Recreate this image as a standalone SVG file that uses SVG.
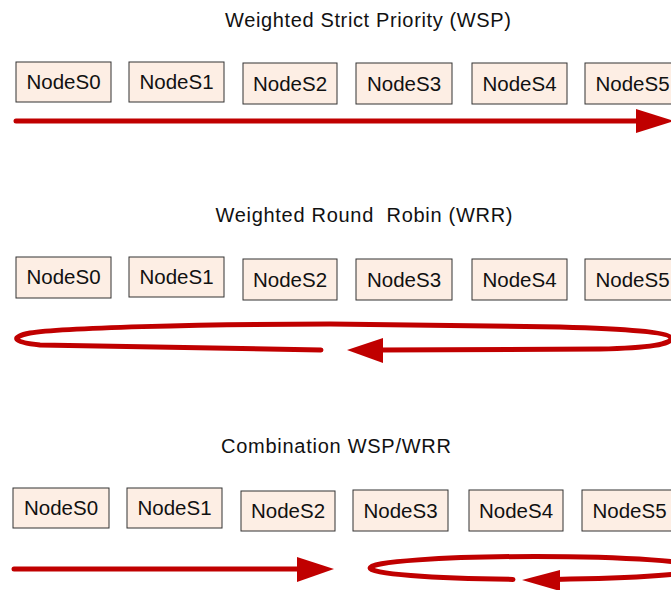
<svg xmlns="http://www.w3.org/2000/svg" width="671" height="590" viewBox="0 0 671 590">
<style>
.box{fill:#FDEEE4;stroke:#333;stroke-width:1}
.lbl{font-family:"Liberation Sans",Arial,sans-serif;font-size:20.5px;fill:#111;text-anchor:middle}
.title{font-family:"Liberation Sans",Arial,sans-serif;font-size:20px;fill:#111;text-anchor:middle}
.red{fill:none;stroke:#C00000;stroke-width:5;stroke-linecap:round;stroke-linejoin:round}
.head{fill:#C00000}
</style>
<rect width="671" height="590" fill="#fff"/>
<g id="titles">
<text class="title" x="368" y="27" textLength="286" lengthAdjust="spacing">Weighted Strict Priority (WSP)</text>
<text class="title" x="364" y="222" textLength="297" lengthAdjust="spacing" xml:space="preserve">Weighted Round  Robin (WRR)</text>
<text class="title" x="336" y="453" textLength="230" lengthAdjust="spacing">Combination WSP/WRR</text>
</g>
<g id="row1">
<g id="r1-s0"><rect class="box" x="16" y="62" width="95" height="40"/><text class="lbl" x="63.5" y="89">NodeS0</text></g>
<g id="r1-s1"><rect class="box" x="129" y="62" width="95" height="40"/><text class="lbl" x="176.5" y="89">NodeS1</text></g>
<g id="r1-s2"><rect class="box" x="243" y="63" width="94" height="41"/><text class="lbl" x="290" y="91">NodeS2</text></g>
<g id="r1-s3"><rect class="box" x="356" y="63" width="96" height="41"/><text class="lbl" x="404" y="91">NodeS3</text></g>
<g id="r1-s4"><rect class="box" x="472" y="63" width="95" height="41"/><text class="lbl" x="519.5" y="91">NodeS4</text></g>
<g id="r1-s5"><rect class="box" x="585" y="63" width="95" height="41"/><text class="lbl" x="632.5" y="91">NodeS5</text></g>
</g>
<g id="row2">
<g id="r2-s0"><rect class="box" x="16" y="257" width="95" height="41"/><text class="lbl" x="63.5" y="284">NodeS0</text></g>
<g id="r2-s1"><rect class="box" x="129" y="257" width="95" height="40"/><text class="lbl" x="176.5" y="284">NodeS1</text></g>
<g id="r2-s2"><rect class="box" x="243" y="259" width="94" height="41"/><text class="lbl" x="290" y="287">NodeS2</text></g>
<g id="r2-s3"><rect class="box" x="356" y="259" width="96" height="41"/><text class="lbl" x="404" y="287">NodeS3</text></g>
<g id="r2-s4"><rect class="box" x="472" y="259" width="95" height="41"/><text class="lbl" x="519.5" y="287">NodeS4</text></g>
<g id="r2-s5"><rect class="box" x="585" y="259" width="95" height="41"/><text class="lbl" x="632.5" y="287">NodeS5</text></g>
</g>
<g id="row3">
<g id="r3-s0"><rect class="box" x="13" y="488" width="96" height="40"/><text class="lbl" x="61" y="515">NodeS0</text></g>
<g id="r3-s1"><rect class="box" x="127" y="488" width="95" height="40"/><text class="lbl" x="174.5" y="515">NodeS1</text></g>
<g id="r3-s2"><rect class="box" x="241" y="491" width="94" height="40"/><text class="lbl" x="288" y="518">NodeS2</text></g>
<g id="r3-s3"><rect class="box" x="353" y="490" width="95" height="41"/><text class="lbl" x="400.5" y="518">NodeS3</text></g>
<g id="r3-s4"><rect class="box" x="469" y="490" width="94" height="41"/><text class="lbl" x="516" y="518">NodeS4</text></g>
<g id="r3-s5"><rect class="box" x="582" y="490" width="95" height="41"/><text class="lbl" x="629.5" y="518">NodeS5</text></g>
</g>
<g id="connectors">
<path class="red" d="M16 121 L640 121"/>
<polygon class="head" points="636,109 674,121 636,133"/>
<path class="red" d="M380 350 L600 349 C650 348 672 344 671 338 C669 332 625 329 560 327 L330 324 C200 324 60 328 30 333 C10 337 12 342 40 345 L321 350"/>
<polygon class="head" points="347,350 383,338 383,363"/>
<path class="red" d="M14 569 L300 569"/>
<polygon class="head" points="297,557 334,569 297,582"/>
<path class="red" d="M555 579.4 A165 11.5 0 0 0 700 568 A165 11.5 0 0 0 370 568 A165 11.5 0 0 0 513 579.4"/>
<polygon class="head" points="522,580 560,570 560,591"/>
</g>
</svg>
